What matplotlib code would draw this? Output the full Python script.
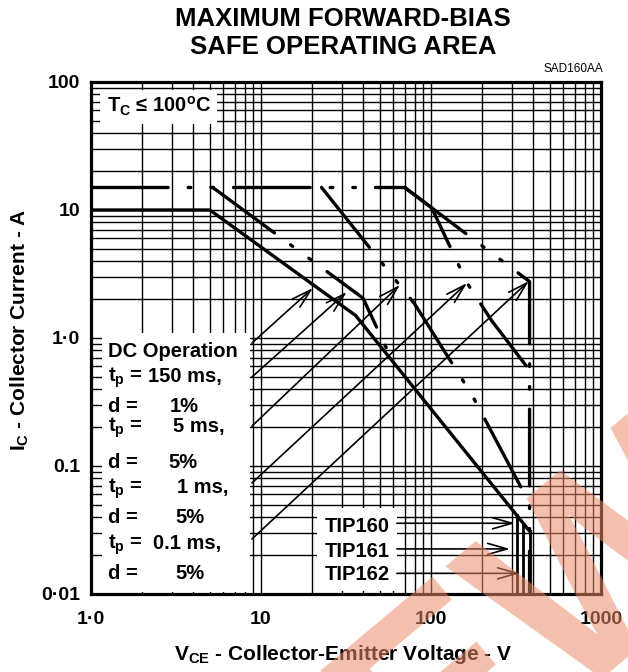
import matplotlib
matplotlib.use('Agg')
import matplotlib.pyplot as plt
import matplotlib.ticker as mticker
from matplotlib.patches import Rectangle
import numpy as np

plt.rcParams['font.family'] = ['Liberation Sans', 'DejaVu Sans']
plt.rcParams['mathtext.fontset'] = 'custom'
plt.rcParams['mathtext.rm'] = 'Liberation Sans:bold'
plt.rcParams['mathtext.bf'] = 'Liberation Sans:bold'
plt.rcParams['mathtext.it'] = 'Liberation Sans:bold'
plt.rcParams['mathtext.default'] = 'bf'

# safe operating area curves (V_CE in V, I_C in A)
dc_v = [1.0, 5.0, 36.0, 380.0]
dc_i = [10.0, 10.0, 1.5, 0.031]

t150_v = [1.0, 5.2, 39.8, 59.0]
t150_i = [15.0, 15.0, 2.05, 0.67]

t5_v = [1.0, 22.7, 80.0, 174.0, 380.0]
t5_i = [15.0, 15.0, 1.85, 0.36, 0.051]

t1_v = [1.0, 70.0, 101.0, 163.0, 228.0, 380.0]
t1_i = [15.0, 15.0, 10.4, 2.69, 1.36, 0.56]

t01_v = [1.0, 70.0, 380.0, 380.0]
t01_i = [15.0, 15.0, 2.76, 0.01]

# V_CEO limits of TIP160 / TIP161 / TIP162
devices = ['TIP160', 'TIP161', 'TIP162']
vceo = [320.0, 350.0, 380.0]

# arrows from the pulse legend to the curves
legend_arrow_start_v = 8.85
legend_arrow_start_i = [0.914, 0.496, 0.205, 0.0737, 0.0269]
legend_arrow_tip_v = [20.2, 32.0, 65.7, 163.0, 377.0]
legend_arrow_tip_i = [2.46, 2.29, 2.6, 2.69, 2.79]

# arrows from the device labels
dev_arrow_start_v = 63.0
dev_arrow_i = [0.0357, 0.0225, 0.0145]
dev_arrow_tip_v = [312.0, 292.0, 334.0]

xticks = [1, 10, 100, 1000]
xticklabels = ['1\u00b70', '10', '100', '1000']
yticks = [0.01, 0.1, 1, 10, 100]
yticklabels = ['0\u00b701', '0.1', '1\u00b70', '10', '100']

legend_left = ['DC Operation', 't$_p$ =', 'd =', 't$_p$ =', 'd =',
               't$_p$ =', 'd =', 't$_p$ =', 'd =']
legend_right = ['', '150 ms,', '1%', '5 ms,', '5%', '1 ms,', '5%', '0.1 ms,', '5%']


W, H = 628, 672
fig = plt.figure(figsize=(W / 100, H / 100), dpi=100)
ax = fig.add_axes([91 / W, (H - 594) / H, 510 / W, 512 / H])


def axpos(px, py):
    # reference pixel position -> axes fraction
    return (px - 91) / 510, (594 - py) / 512


ax.set_xscale('log')
ax.set_yscale('log')
ax.set_xlim(1, 1000)
ax.set_ylim(0.01, 100)

ax.xaxis.set_minor_locator(mticker.LogLocator(base=10, subs=np.arange(2, 10)))
ax.yaxis.set_minor_locator(mticker.LogLocator(base=10, subs=np.arange(2, 10)))
ax.xaxis.set_minor_formatter(mticker.NullFormatter())
ax.yaxis.set_minor_formatter(mticker.NullFormatter())
ax.set_xticks(xticks)
ax.set_xticklabels(xticklabels)
ax.set_yticks(yticks)
ax.set_yticklabels(yticklabels)
ax.tick_params(which='both', length=0)
ax.tick_params(axis='x', pad=12, labelsize=14)
ax.tick_params(axis='y', pad=8, labelsize=14)
for lab in ax.get_xticklabels() + ax.get_yticklabels():
    lab.set_fontweight('bold')

ax.set_axisbelow(True)
ax.grid(which='both', color='black', lw=1.0)
for sp in ax.spines.values():
    sp.set_linewidth(2.3)

# white label boxes hide the grid
boxes = [(100, 90, 217, 124), (102, 333, 250, 592), (317, 508, 397, 591)]
for x0, y0, x1, y1 in boxes:
    fx0, fy1 = axpos(x0, y0)
    fx1, fy0 = axpos(x1, y1)
    ax.add_patch(Rectangle((fx0, fy0), fx1 - fx0, fy1 - fy0, transform=ax.transAxes,
                           facecolor='white', edgecolor='none', zorder=1.5))

lw = 2.4
pulse_ls = (0, (23, 6, 0.8, 6, 0.8, 6))

# DC curve, solid
ax.plot(dc_v, dc_i, color='black', lw=lw, solid_capstyle='butt', zorder=3)

# pulsed curves share the 15 A limit; draw it once, then each branch
pulse = [(t150_v, t150_i), (t5_v, t5_i), (t1_v, t1_i), (t01_v, t01_i)]
knee = max(v[1] for v, i in pulse)
ax.plot([pulse[0][0][0], knee], [pulse[0][1][0], pulse[0][1][0]], color='black',
        lw=lw, linestyle=pulse_ls, dash_capstyle='round', zorder=3)
for v, i in pulse:
    ax.plot(v[1:], i[1:], color='black', lw=lw, linestyle=pulse_ls,
            dash_capstyle='round', zorder=3)

# V_CEO verticals from the DC line down
for v in vceo:
    top = 10 ** np.interp(np.log10(v), np.log10(dc_v), np.log10(dc_i))
    ax.plot([v, v], [top, 0.01], color='black', lw=2.0, zorder=3)

arrow_kw = dict(arrowstyle='->,head_length=0.7,head_width=0.2', lw=1.2,
                color='black', shrinkA=0, shrinkB=0, mutation_scale=20)
for yi, tv, ti in zip(legend_arrow_start_i, legend_arrow_tip_v, legend_arrow_tip_i):
    ax.annotate('', xy=(tv, ti), xytext=(legend_arrow_start_v, yi),
                arrowprops=arrow_kw, zorder=4)
for yi, tv in zip(dev_arrow_i, dev_arrow_tip_v):
    ax.annotate('', xy=(tv, yi), xytext=(dev_arrow_start_v, yi),
                arrowprops=arrow_kw, zorder=4)

# texts
fs = 14.5
fx, fy = axpos(107, 112)
ax.text(fx, fy, 'T$_C$ \u2264 100$^o$C', transform=ax.transAxes, fontsize=fs,
        fontweight='bold', va='baseline', zorder=5)

base_y = [356.7, 381.7, 412, 431.7, 467.7, 492.7, 523, 549, 579.3]
right_x = [0, 148, 170, 173, 168, 177, 175, 153, 175]
for left, right, by, rx in zip(legend_left, legend_right, base_y, right_x):
    fx, fy = axpos(108, by)
    ax.text(fx, fy, left, transform=ax.transAxes, fontsize=fs, fontweight='bold',
            va='baseline', zorder=5)
    if right:
        fx, fy = axpos(rx, by)
        ax.text(fx, fy, right, transform=ax.transAxes, fontsize=fs,
                fontweight='bold', va='baseline', zorder=5)

for name, by in zip(devices, [531.7, 556.7, 580]):
    fx, fy = axpos(325, by)
    ax.text(fx, fy, name, transform=ax.transAxes, fontsize=fs, fontweight='bold',
            va='baseline', zorder=5)

fig.text(343 / W, 1 - 19 / H, 'MAXIMUM FORWARD-BIAS', ha='center', va='center',
         fontsize=18.5, fontweight='bold')
fig.text(343 / W, 1 - 47 / H, 'SAFE OPERATING AREA', ha='center', va='center',
         fontsize=18.5, fontweight='bold')
fig.text(603 / W, 1 - 72 / H, 'SAD160AA', ha='right', va='baseline', fontsize=8.5)

fig.text(343 / W, 1 - 655 / H, 'V$_{CE}$ - Collector-Emitter Voltage - V',
         ha='center', va='center', fontsize=15, fontweight='bold')
fig.text(20 / W, 1 - 330 / H, 'I$_C$ - Collector Current - A', rotation=90,
         ha='center', va='center', fontsize=15, fontweight='bold')

# watermark
fig.text(0.75, -0.015, 'NEW', rotation=40, fontsize=195, color=(0.92, 0.55, 0.42),
         alpha=0.55, fontweight='bold', ha='center', va='center', zorder=10)

fig.savefig('out.png', dpi=100)
